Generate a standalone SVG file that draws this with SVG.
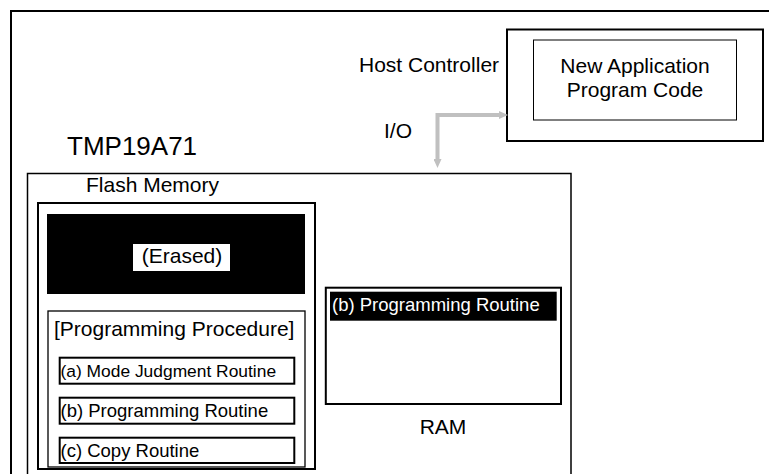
<svg xmlns="http://www.w3.org/2000/svg" width="769" height="474" viewBox="0 0 769 474">
  <style>
    text { font-family: "Liberation Sans", Arial, sans-serif; fill: #000; }
    .t21 { font-size: 21px; }
    .t18 { font-size: 18.5px; }
    .box { fill: #fff; stroke: #000; }
    .thick { stroke-width: 2; }
    .thin { stroke-width: 1.3; }
    .frame { fill: none; stroke: #000; }
    .io { fill: none; stroke: #c0c0c0; stroke-width: 4; }
  </style>
  <defs>
    <marker id="ah" markerUnits="userSpaceOnUse" markerWidth="9" markerHeight="8" refX="0" refY="4" orient="auto-start-reverse" viewBox="0 0 9 8">
      <path d="M0,0 L9,4 L0,8 z" fill="#c0c0c0"/>
    </marker>
  </defs>
  <rect width="769" height="474" fill="#fff"/>

  <g id="tmp19a71">
    <path class="frame thick" d="M11,474 V11 H769"/>
    <text class="t21" x="67" y="155" style="font-size:26px">TMP19A71</text>
  </g>

  <g id="host-controller">
    <text class="t21" x="359" y="72">Host Controller</text>
    <rect class="box thick" x="507" y="29.5" width="256" height="111.5"/>
  </g>

  <g id="new-application">
    <rect class="box" stroke-width="1" x="533.5" y="40" width="203" height="80"/>
    <text class="t21" x="635" y="73" text-anchor="middle">New Application</text>
    <text class="t21" x="635" y="97" text-anchor="middle">Program Code</text>
  </g>

  <g id="chip">
    <path class="frame" stroke-width="1.5" d="M27.5,474 V173.5 H571 V474"/>
    <text class="t21" x="86" y="192">Flash Memory</text>
  </g>

  <g id="flash-memory">
    <rect class="box thick" x="38" y="203" width="277" height="266"/>
  </g>

  <g id="erased">
    <rect x="47" y="214" width="258" height="80" fill="#000"/>
    <rect x="133" y="244" width="97" height="27" fill="#fff"/>
    <text class="t21" x="182" y="263" text-anchor="middle">(Erased)</text>
  </g>

  <g id="programming-procedure">
    <rect class="box thin" x="48" y="311" width="257" height="156"/>
    <text class="t21" x="54" y="336">[Programming Procedure]</text>
  </g>

  <g id="mode-judgment">
    <rect class="box thick" x="59.7" y="357.7" width="234.6" height="26"/>
    <text class="t18" x="60.5" y="377" style="font-size:17.4px">(a) Mode Judgment Routine</text>
  </g>

  <g id="programming-routine">
    <rect class="box thick" x="59.7" y="397.7" width="234.6" height="26"/>
    <text class="t18" x="60.5" y="417">(b) Programming Routine</text>
  </g>

  <g id="copy-routine">
    <rect class="box thick" x="59.7" y="437.7" width="234.6" height="25.3"/>
    <text class="t18" x="60.5" y="457">(c) Copy Routine</text>
  </g>

  <g id="ram">
    <rect class="box thick" x="325.8" y="287.7" width="235.2" height="116.3"/>
    <rect x="330" y="291.7" width="226.7" height="29" fill="#000"/>
    <text class="t18" x="332" y="310.7" style="fill:#fff">(b) Programming Routine</text>
    <text class="t21" x="443" y="434" text-anchor="middle">RAM</text>
  </g>

  <g id="connectors">
    <path class="io" d="M499,115 H437.5 V159" marker-start="url(#ah)" marker-end="url(#ah)"/>
    <text class="t21" x="384" y="138">I/O</text>
  </g>
</svg>
